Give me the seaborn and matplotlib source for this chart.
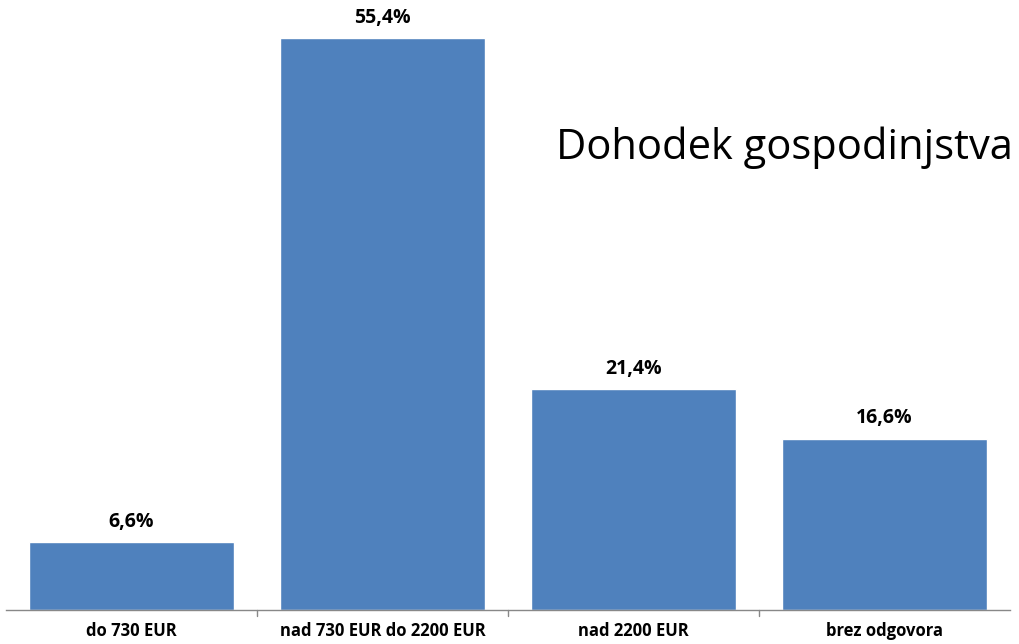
import matplotlib
matplotlib.use("Agg")
import matplotlib.pyplot as plt
import seaborn as sns
import pandas as pd

# data
categories = ["do 730 EUR", "nad 730 EUR do 2200 EUR", "nad 2200 EUR", "brez odgovora"]
shares = [6.6, 55.4, 21.4, 16.6]
title_text = "Dohodek gospodinjstva"

sns.set_style("white")
plt.rcParams['font.family'] = ['Open Sans', 'DejaVu Sans']

df = pd.DataFrame({"cat": categories, "val": shares})

fig = plt.figure(figsize=(10.19, 6.44), dpi=100)
ax = fig.add_axes([6 / 1019, 34 / 644, 1004 / 1019, 610 / 644])
sns.barplot(data=df, x="cat", y="val", color="#4f81bd", saturation=1,
            width=0.82, ax=ax)

for i, v in enumerate(shares):
    ax.text(i, v + 1.0, f"{v:.1f}%".replace(".", ","), ha="center", va="bottom",
            fontsize=14, fontweight="bold", color="black")

ax.set_ylim(0, 59.1)
ax.set_xlim(-0.5, 3.5)
ax.set_xlabel("")
ax.set_ylabel("")
ax.set_yticks([])
ax.tick_params(axis="x", length=0, pad=9, labelsize=12, labelcolor="black")
for lbl in ax.get_xticklabels():
    lbl.set_fontweight("bold")
for s in ["top", "right", "left"]:
    ax.spines[s].set_visible(False)
ax.spines["bottom"].set_color("#888888")
ax.spines["bottom"].set_linewidth(1)
# category separator ticks
for x in [0.5, 1.5, 2.5]:
    ax.plot([x, x], [0, -0.6], color="#888888", lw=1, clip_on=False)

fig.text(1013 / 1019, 1 - 148 / 644, title_text, ha="right", va="center",
         fontsize=30, color="black")

fig.savefig("out.png", dpi=100)
